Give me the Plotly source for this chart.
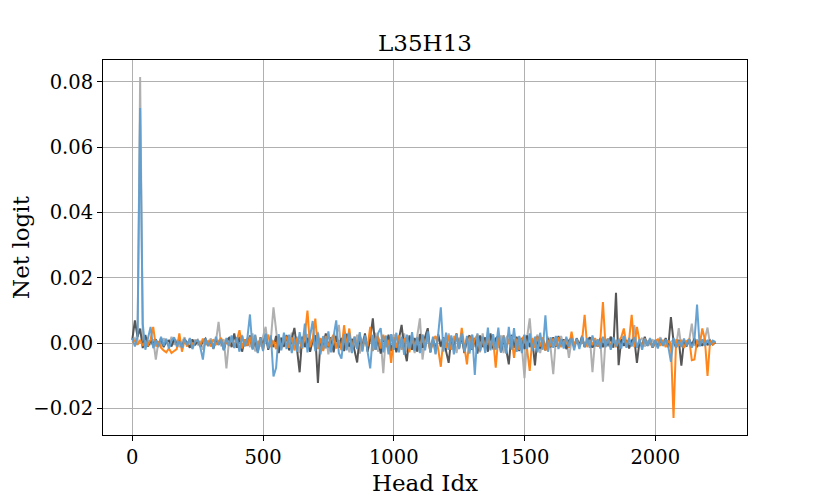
import plotly.graph_objects as go

# Head index (sampled every 10 heads)
head_idx = list(range(0, 2240, 10))

# Net logit values in thousandths (milli-logits)
light_gray_milli = [
    0.5, 1.5, -0.5, 81.5, 2.0, -1.0, 0.8, -0.5, 1.2, -5.0,
    0.6, -1.0, 1.5, 0.3, -0.8, 2.0, -0.5, 1.0, -1.2, 0.4,
    1.8, -0.6, 0.9, -1.5, 1.1, -0.3, 0.7, -2.0, 1.0, -0.4,
    1.5, -1.8, 0.5, 6.5, -1.0, 1.2, -7.7, 0.8, 2.0, -1.5,
    1.0, -2.2, 2.5, -0.8, 1.6, -1.2, 3.0, -2.5, 0.6, -1.0,
    2.2, 5.0, -1.5, 1.0, 11.0, 3.0, -2.8, 1.8, -1.2, 2.6,
    -2.0, 3.2, -1.0, 2.0, -3.0, 1.4, -0.6, 2.8, -2.4, 1.0,
    -1.8, 3.5, -2.6, 1.2, 2.4, -3.4, 1.6, -1.0, 2.0, 5.6,
    -2.2, 1.0, 3.0, -2.8, 1.5, -1.4, 2.6, -3.2, 0.8, 2.2,
    -2.0, 1.8, -1.0, 3.2, -2.6, 1.2, -9.2, 2.4, -1.6, 1.0,
    2.8, -2.2, 1.0, -1.4, 3.0, -2.8, 1.6, 0.6, -3.0, 2.0,
    7.6, -5.0, 1.4, 2.6, -2.0, 1.0, -3.2, 2.8, -1.2, 1.8,
    -2.4, 3.0, -1.0, 2.2, -3.0, 1.2, 2.0, -2.6, 1.6, -1.8,
    2.6, -1.2, 1.0, -2.8, 3.0, -1.6, 1.4, 2.2, -2.0, 1.0,
    -1.4, 2.4, -3.0, 1.6, 2.8, -1.8, 1.2, -2.6, 2.0, -1.0,
    -10.7, 1.8, 7.6, -2.2, 1.0, 2.6, -3.0, 1.4, -1.2, 2.0,
    -1.6, -9.5, 1.2, -1.0, 2.2, -0.8, 1.4, -4.5, 0.8, -1.2,
    1.6, -0.8, 2.4, -1.0, 0.6, 1.8, -8.9, 1.0, -0.6, 1.2,
    -11.8, 1.4, -1.0, 2.0, -0.6, 1.0, -1.4, 0.8, 2.2, -1.0,
    1.0, -0.8, 5.5, -1.2, 0.6, 1.6, -1.0, 0.8, -0.4, 1.2,
    -1.0, 0.6, 1.8, -0.8, 1.0, -1.4, 0.4, 1.0, -0.8, 4.6,
    -1.2, 0.8, -0.4, 1.0, 6.0, -0.8, 1.2, -0.6, 0.8, 1.4,
    4.8, -0.6, 0.5, -0.2,
]

dark_gray_milli = [
    1.0, 7.0, 2.0, 4.5, -1.5, 2.5, -1.0, 0.8, -0.4, 1.2,
    -0.6, 1.5, -1.2, 0.5, 0.8, -1.0, 1.4, -0.3, 0.6, -1.0,
    1.0, 0.2, -1.4, 1.2, -0.6, 0.8, -1.0, 0.5, 1.4, -0.8,
    0.6, -1.5, 1.0, -0.4, 1.2, -2.0, 0.8, 1.6, -1.2, 3.0,
    -1.4, 2.0, -2.6, 1.2, -0.8, 2.4, -1.6, 1.0, -2.8, 1.8,
    -1.0, 2.6, -2.0, 1.4, -1.2, 2.2, -3.0, 1.6, -1.0, 2.4,
    -2.2, 1.2, 4.7, -1.8, -8.9, 2.0, -1.2, 1.6, -2.6, 1.0,
    2.4, -12.2, 1.4, -2.0, 3.0, -1.2, 1.8, -2.8, 2.2, -1.4,
    1.6, -2.4, 2.8, -1.0, 1.2, -2.2, -5.9, 2.4, -1.6, 3.0,
    -2.6, 1.4, 7.6, -2.0, 1.8, -3.2, 2.2, -1.0, 2.6, -2.4,
    1.2, -2.8, 2.0, 5.6, -1.6, -5.5, 2.4, -2.0, 1.6, -2.6,
    2.8, -1.4, 2.0, 4.6, -2.8, 1.4, -2.2, 2.6, -1.0, 1.8,
    -2.4, -6.0, 1.6, -2.0, 3.0, -1.4, 2.2, -3.0, 1.2, 2.4,
    -2.0, 1.6, -3.2, 2.4, -1.2, 1.8, -2.6, 3.0, -1.6, 1.4,
    2.2, -2.8, 1.2, -1.8, -6.5, 2.6, -1.4, 2.0, -2.4, 1.6,
    -1.8, 2.4, -1.2, 1.0, -6.8, 2.0, -1.6, 1.2, -2.2, 1.4,
    -1.2, 1.8, -1.0, 2.2, -0.8, 1.2, -1.8, 0.8, 1.6, -1.0,
    1.4, -0.8, 2.0, -1.2, 0.6, 1.8, -1.4, 0.8, -1.0, 1.6,
    -1.2, 1.0, -0.6, 2.0, -1.4, 15.4, -6.7, 1.2, -0.8, 1.0,
    -1.6, 0.8, 1.4, -6.0, 0.6, -1.0, 2.0, -0.8, 1.2, -1.4,
    0.8, -1.2, 1.0, -0.6, 1.6, -1.0, 8.0, 0.6, -1.4, 1.0,
    -6.9, 0.8, -1.0, 1.2, -0.6, 1.4, -1.2, 0.6, -0.8, 1.0,
    -0.6, 0.8, -0.4, 0.3,
]

orange_milli = [
    0.2, 0.8, -0.5, 1.0, -0.8, 0.5, -0.6, 1.2, 5.0, -1.0,
    0.6, -1.4, -2.2, -2.8, -1.6, -3.0, -2.4, -1.8, 3.0, -2.6,
    0.8, -1.0, 1.2, -0.6, 0.4, 1.0, -0.8, 1.4, -0.5, 0.6,
    -1.0, 1.2, -0.4, 0.8, 1.6, -1.2, 0.6, -0.8, 1.4, -0.6,
    1.0, 4.0, -1.6, 1.2, -0.8, 2.0, -1.4, 2.4, -1.0, 1.6,
    -2.0, 1.4, 2.6, -1.2, 0.8, -1.8, 2.2, -1.6, 1.0, 2.0,
    -1.4, 1.8, -2.2, 1.2, 0.6, -1.6, 2.4, 10.0, -1.2, 1.4,
    7.5, -1.8, 1.6, -2.4, 2.2, -1.0, 1.2, 2.6, -1.6, 1.0,
    -2.0, 5.5, -1.2, 4.5, -1.8, 2.0, -1.4, 2.8, -2.2, 1.6,
    -1.0, 5.0, -2.4, 1.4, 2.0, -1.6, 2.6, -1.2, 1.0, -6.0,
    1.8, -1.4, 2.4, -2.0, 1.2, 1.6, -2.8, 2.0, -1.0, 1.4,
    -2.2, 2.6, -1.2, 1.8, -2.6, 1.0, 2.2, -1.8, -7.2, 1.6,
    -1.4, 2.4, -2.0, 1.2, 2.8, -1.6, 4.7, -1.0, -6.5, 2.0,
    -1.8, 1.2, 2.6, -2.4, 1.6, -1.2, 2.0, -1.6, 1.4, -7.5,
    1.8, -1.2, 2.4, -1.6, 1.0, 2.2, -4.5, 1.4, -2.0, 1.2,
    2.4, -1.8, -8.5, 1.6, -1.4, 2.0, -1.0, 1.8, -2.2, 1.0,
    -1.0, 1.4, -0.8, 1.8, -1.2, 0.6, 1.0, -1.4, 3.5, -0.8,
    1.2, -1.0, 0.6, 8.7, -1.2, 1.0, -0.6, 1.6, -1.0, 0.8,
    12.6, -1.0, 1.4, -0.8, 1.0, -1.2, 0.6, 1.8, 4.5, -0.6,
    1.0, 8.7, -1.2, 5.0, 0.8, -1.0, 1.4, -0.6, 1.0, -1.2,
    0.6, 1.2, -0.8, 1.0, -1.2, 0.8, -0.4, -22.9, 1.2, -0.8,
    1.0, -1.4, 0.6, 1.2, -5.2, -5.0, 0.8, -0.6, 4.5, 1.0,
    -10.0, 0.8, -0.4, 0.6,
]

blue_milli = [
    1.5, -1.0, 2.0, 72.0, 6.0, -2.0, 1.5, 5.0, -1.5, 1.0,
    -1.2, 2.0, -0.8, 1.4, -1.6, 0.8, 1.8, -1.0, 0.6, -1.4,
    1.2, -0.6, 1.6, -1.8, 0.4, 1.0, -1.2, -5.0, 1.4, -0.8,
    1.0, -1.6, 2.0, -0.6, 1.2, -2.2, 1.6, -0.8, 2.4, -1.4,
    1.8, -2.6, 2.2, -1.0, 1.4, 8.8, -2.0, 2.6, -3.0, 1.6,
    -2.4, 3.0, -1.6, 2.4, -10.2, -7.5, 2.8, -2.2, 3.2, -1.8,
    2.6, -3.0, 1.8, -2.6, 3.4, -1.4, 6.0, -2.8, 2.2, 6.8,
    -2.4, 3.0, -3.4, 2.2, -1.6, 3.6, -2.8, 1.8, 7.0, -3.0,
    -4.7, 2.8, -2.2, 3.2, -3.0, 2.0, -1.8, 3.4, -2.6, 2.4,
    -3.2, -7.7, 2.6, -2.0, 3.0, 4.6, -2.8, 2.2, -3.4, 2.8,
    -2.0, 3.2, -2.8, 2.0, -3.6, 2.6, -1.8, 3.4, -2.4, 1.8,
    -3.0, 2.6, -2.2, 3.6, -2.8, 2.0, -3.4, 2.8, 11.0, -2.6,
    3.2, -2.0, 2.4, -3.4, 2.8, -1.8, 3.0, -2.6, 2.2, -3.2,
    2.6, -9.7, 3.0, -2.4, 2.0, -3.0, 4.8, -2.2, 2.8, -2.0,
    4.8, -2.8, 2.4, -3.2, 5.0, -2.0, 4.6, -2.6, 2.2, -3.0,
    2.6, -1.8, 3.0, -2.4, 2.0, -2.8, 3.2, -2.0, 8.5, -2.6,
    1.8, -1.4, 2.2, -1.8, 1.2, -1.6, 2.0, -1.0, 1.6, -2.2,
    1.4, -1.8, 2.0, -1.2, 1.6, -1.4, 2.4, -1.0, 1.2, -1.6,
    2.0, -1.2, 1.4, -2.0, 1.8, -1.0, 1.2, -1.6, 2.2, -1.4,
    1.6, -1.0, 1.8, -1.4, 1.2, -2.0, 1.4, -0.8, 1.6, -1.2,
    1.0, -1.6, 1.4, -0.8, 1.2, -1.0, -5.7, 1.6, -1.2, 0.8,
    -1.0, 1.4, -0.8, 1.2, -1.4, 0.8, 11.8, -1.0, 1.2, -0.8,
    1.0, -0.6, 0.8, 0.4,
]

x_ticks = [0, 500, 1000, 1500, 2000]
y_ticks = [-0.02, 0.0, 0.02, 0.04, 0.06, 0.08]
y_tick_labels = ["\u22120.02", "0.00", "0.02", "0.04", "0.06", "0.08"]

series = [
    (light_gray_milli, "rgba(172,172,172,0.95)"),
    (dark_gray_milli, "rgba(72,72,72,0.92)"),
    (orange_milli, "rgba(255,127,14,0.95)"),
    (blue_milli, "rgba(95,158,208,0.95)"),
]

fig = go.Figure()
for vals, color in series:
    fig.add_trace(go.Scatter(
        x=head_idx, y=[v / 1000 for v in vals], mode="lines",
        line=dict(color=color, width=2), showlegend=False,
    ))

font_family = "DejaVu Serif, Liberation Serif, serif"
# Note: the page body has an 8px margin, so margins are offset to place the plot area
fig.update_layout(
    width=830, height=498,
    margin=dict(l=95, r=91, t=52, b=71, autoexpand=False),
    paper_bgcolor="white", plot_bgcolor="white",
    font=dict(family=font_family, size=19.5, color="black"),
    title=dict(text="L35H13", x=0.5, xref="paper", xanchor="center",
               y=1 - 35 / 498, yref="container", yanchor="middle",
               font=dict(size=23)),
)
fig.update_xaxes(
    range=[-112, 2351], tickvals=x_ticks, ticktext=[str(v) for v in x_ticks],
    showgrid=True, gridcolor="#b0b0b0", gridwidth=1,
    showline=True, mirror=True, linecolor="black", linewidth=1,
    ticks="outside", ticklen=5, tickcolor="black", zeroline=False,
    title=dict(text="Head Idx", standoff=6),
)
fig.update_yaxes(
    range=[-0.0281, 0.0867], tickvals=y_ticks, ticktext=y_tick_labels,
    showgrid=True, gridcolor="#b0b0b0", gridwidth=1,
    showline=True, mirror=True, linecolor="black", linewidth=1,
    ticks="outside", ticklen=5, tickcolor="black", zeroline=False,
    title=dict(text="Net logit", standoff=14),
)

fig.write_html("out.html")
